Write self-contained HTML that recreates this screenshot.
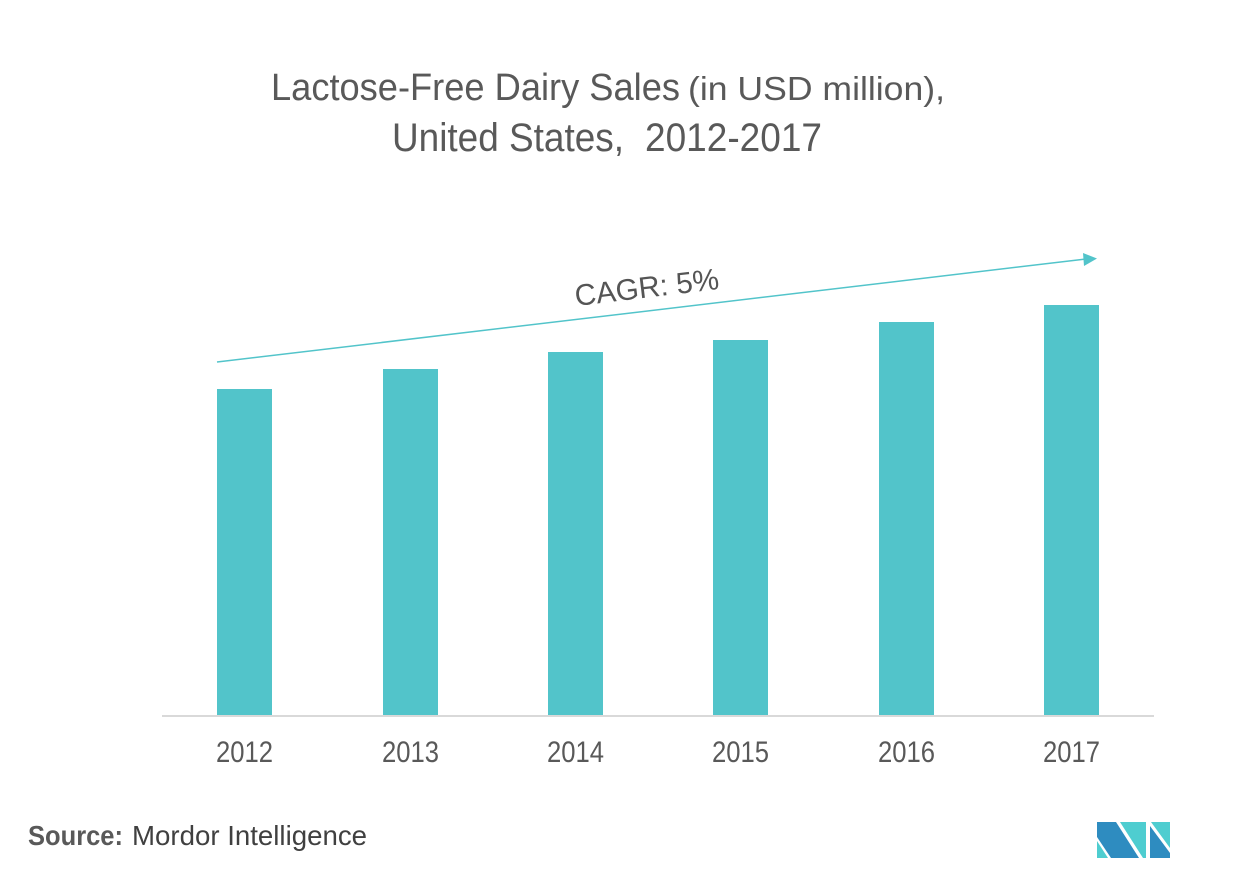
<!DOCTYPE html>
<html>
<head>
<meta charset="utf-8">
<style>
html,body{margin:0;padding:0;background:#fff;}
svg{display:block;}
text{font-family:"Liberation Sans",Arial,sans-serif;}
</style>
</head>
<body>
<svg width="1252" height="879" viewBox="0 0 1252 879" xmlns="http://www.w3.org/2000/svg">
  <rect width="1252" height="879" fill="#ffffff"/>
  <!-- Title -->
  <text x="271" y="100" font-size="38" fill="#595959" textLength="409" lengthAdjust="spacingAndGlyphs">Lactose-Free Dairy Sales</text>
  <text x="688" y="100" font-size="33" fill="#595959" textLength="257" lengthAdjust="spacingAndGlyphs">(in USD million),</text>
  <text x="392" y="151" font-size="40" fill="#595959" textLength="232" lengthAdjust="spacingAndGlyphs">United States,</text>
  <text x="645" y="151" font-size="40" fill="#595959" textLength="177" lengthAdjust="spacingAndGlyphs">2012-2017</text>

  <!-- Bars -->
  <g fill="#52C4CA">
    <rect x="217" y="389" width="55" height="326"/>
    <rect x="383" y="369" width="55" height="346"/>
    <rect x="548" y="352" width="55" height="363"/>
    <rect x="713" y="340" width="55" height="375"/>
    <rect x="879" y="322" width="55" height="393"/>
    <rect x="1044" y="305" width="55" height="410"/>
  </g>

  <!-- Axis -->
  <line x1="162" y1="716" x2="1154" y2="716" stroke="#d9d9d9" stroke-width="2"/>

  <!-- CAGR arrow -->
  <line x1="217" y1="362" x2="1086" y2="259" stroke="#52C4CA" stroke-width="1.5"/>
  <polygon points="1083,253 1097,258.5 1084,266" fill="#52C4CA"/>
  <text x="0" y="0" font-size="30" fill="#555555" textLength="145" lengthAdjust="spacingAndGlyphs" transform="translate(576,306) rotate(-6.78)">CAGR: 5%</text>

  <!-- Year labels -->
  <g font-size="30" fill="#595959" text-anchor="middle">
    <text x="244.5" y="762" textLength="57" lengthAdjust="spacingAndGlyphs">2012</text>
    <text x="410.5" y="762" textLength="57" lengthAdjust="spacingAndGlyphs">2013</text>
    <text x="575.5" y="762" textLength="57" lengthAdjust="spacingAndGlyphs">2014</text>
    <text x="740.5" y="762" textLength="57" lengthAdjust="spacingAndGlyphs">2015</text>
    <text x="906.5" y="762" textLength="57" lengthAdjust="spacingAndGlyphs">2016</text>
    <text x="1071.5" y="762" textLength="57" lengthAdjust="spacingAndGlyphs">2017</text>
  </g>

  <!-- Source -->
  <text x="28" y="845" font-size="28" font-weight="bold" fill="#595959" textLength="95" lengthAdjust="spacingAndGlyphs">Source:</text>
  <text x="132" y="845" font-size="28" fill="#404040" textLength="235" lengthAdjust="spacingAndGlyphs">Mordor Intelligence</text>

  <!-- Logo -->
  <g>
    <polygon points="1097,822 1116,822 1139,858 1111,858 1097,837" fill="#2E8CC0"/>
    <polygon points="1097,841 1097,858 1108,858" fill="#4ECDD0"/>
    <polygon points="1120,822 1146,822 1146,858 1143,858" fill="#4ECDD0"/>
    <polygon points="1151,822 1170,822 1170,848" fill="#4ECDD0"/>
    <polygon points="1150,826 1170,853 1170,858 1150,858" fill="#2E8CC0"/>
  </g>
</svg>
</body>
</html>
